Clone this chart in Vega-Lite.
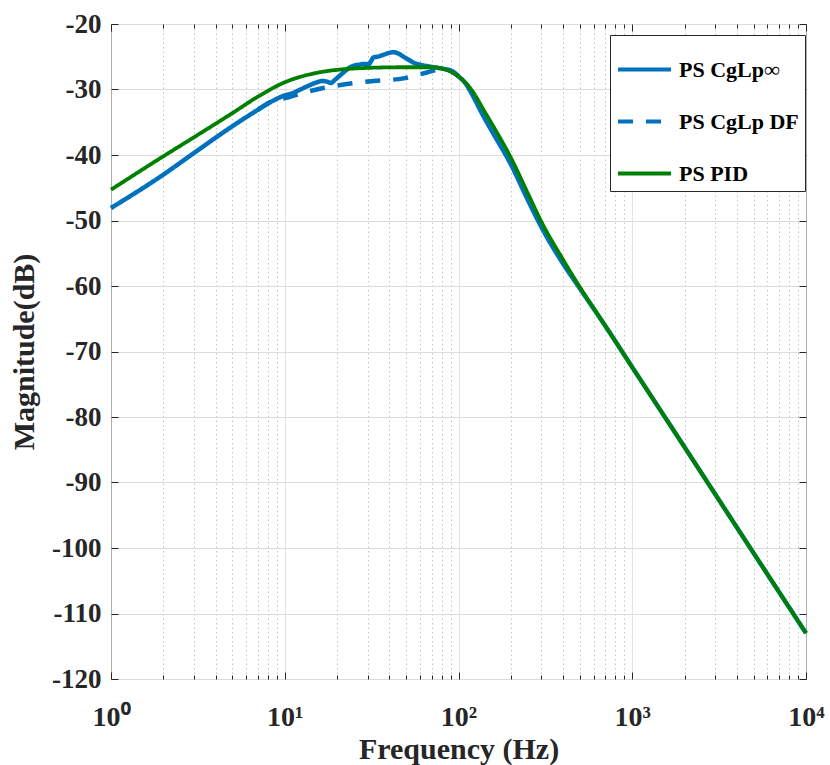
{
  "$schema": "https://vega.github.io/schema/vega-lite/v6.json",
  "width": 695,
  "height": 655,
  "autosize": {"type": "none"},
  "padding": {"left": 111, "top": 24, "right": 24, "bottom": 86},
  "background": "white",
  "view": {"stroke": "#262626", "strokeWidth": 1},
  "config": {
    "font": "Liberation Serif",
    "axis": {
      "labelFont": "Liberation Serif",
      "labelFontWeight": "bold",
      "labelColor": "#262626",
      "titleFont": "Liberation Serif",
      "titleFontWeight": "bold",
      "titleColor": "#262626",
      "tickColor": "#262626",
      "domain": false
    },
    "legend": {
      "labelFont": "Liberation Serif",
      "labelFontWeight": "bold",
      "labelColor": "black"
    }
  },
  "datasets": {
    "curves": [
      {"series": "PS CgLp∞", "f": 1, "db": -48.1},
      {"series": "PS CgLp∞", "f": 2, "db": -43.0},
      {"series": "PS CgLp∞", "f": 3, "db": -39.7},
      {"series": "PS CgLp∞", "f": 5, "db": -35.6},
      {"series": "PS CgLp∞", "f": 7, "db": -33.1},
      {"series": "PS CgLp∞", "f": 8.3, "db": -31.9},
      {"series": "PS CgLp∞", "f": 10, "db": -30.9},
      {"series": "PS CgLp∞", "f": 11, "db": -30.6},
      {"series": "PS CgLp∞", "f": 12.3, "db": -30.0},
      {"series": "PS CgLp∞", "f": 13.5, "db": -29.5},
      {"series": "PS CgLp∞", "f": 15.3, "db": -28.9},
      {"series": "PS CgLp∞", "f": 16.5, "db": -28.7},
      {"series": "PS CgLp∞", "f": 17.5, "db": -28.8},
      {"series": "PS CgLp∞", "f": 18.5, "db": -29.0},
      {"series": "PS CgLp∞", "f": 19.3, "db": -28.6},
      {"series": "PS CgLp∞", "f": 20.5, "db": -28.0},
      {"series": "PS CgLp∞", "f": 22, "db": -27.3},
      {"series": "PS CgLp∞", "f": 23.8, "db": -26.6},
      {"series": "PS CgLp∞", "f": 25.5, "db": -26.3},
      {"series": "PS CgLp∞", "f": 27, "db": -26.2},
      {"series": "PS CgLp∞", "f": 28.4, "db": -26.1},
      {"series": "PS CgLp∞", "f": 30.5, "db": -26.1},
      {"series": "PS CgLp∞", "f": 31.5, "db": -25.6},
      {"series": "PS CgLp∞", "f": 32.4, "db": -25.1},
      {"series": "PS CgLp∞", "f": 34, "db": -25.0},
      {"series": "PS CgLp∞", "f": 37, "db": -24.7},
      {"series": "PS CgLp∞", "f": 40, "db": -24.4},
      {"series": "PS CgLp∞", "f": 42.3, "db": -24.3},
      {"series": "PS CgLp∞", "f": 45, "db": -24.5},
      {"series": "PS CgLp∞", "f": 48.3, "db": -25.0},
      {"series": "PS CgLp∞", "f": 52, "db": -25.5},
      {"series": "PS CgLp∞", "f": 55.1, "db": -25.9},
      {"series": "PS CgLp∞", "f": 60, "db": -26.2},
      {"series": "PS CgLp∞", "f": 68.7, "db": -26.5},
      {"series": "PS CgLp∞", "f": 80, "db": -26.8},
      {"series": "PS CgLp∞", "f": 90, "db": -27.1},
      {"series": "PS CgLp∞", "f": 100, "db": -28.0},
      {"series": "PS CgLp∞", "f": 110, "db": -29.1},
      {"series": "PS CgLp∞", "f": 120, "db": -30.8},
      {"series": "PS CgLp∞", "f": 140, "db": -34.2},
      {"series": "PS CgLp∞", "f": 160, "db": -36.9},
      {"series": "PS CgLp∞", "f": 200, "db": -41.4},
      {"series": "PS CgLp∞", "f": 250, "db": -46.8},
      {"series": "PS CgLp∞", "f": 300, "db": -51.0},
      {"series": "PS CgLp∞", "f": 400, "db": -56.6},
      {"series": "PS CgLp∞", "f": 500, "db": -60.4},
      {"series": "PS CgLp∞", "f": 700, "db": -66.1},
      {"series": "PS CgLp∞", "f": 1000, "db": -72.4},
      {"series": "PS CgLp∞", "f": 2000, "db": -84.6},
      {"series": "PS CgLp∞", "f": 5000, "db": -100.8},
      {"series": "PS CgLp∞", "f": 10000, "db": -113.0},
      {"series": "PS CgLp DF", "f": 7, "db": -33.1},
      {"series": "PS CgLp DF", "f": 8.3, "db": -31.9},
      {"series": "PS CgLp DF", "f": 10.5, "db": -31.2},
      {"series": "PS CgLp DF", "f": 12.8, "db": -30.5},
      {"series": "PS CgLp DF", "f": 15.3, "db": -30.0},
      {"series": "PS CgLp DF", "f": 22.3, "db": -29.2},
      {"series": "PS CgLp DF", "f": 32.4, "db": -28.7},
      {"series": "PS CgLp DF", "f": 48.3, "db": -28.3},
      {"series": "PS CgLp DF", "f": 65.8, "db": -27.4},
      {"series": "PS CgLp DF", "f": 80, "db": -26.9},
      {"series": "PS CgLp DF", "f": 90, "db": -27.1},
      {"series": "PS CgLp DF", "f": 100, "db": -28.0},
      {"series": "PS PID", "f": 1, "db": -45.3},
      {"series": "PS PID", "f": 2, "db": -40.2},
      {"series": "PS PID", "f": 3, "db": -37.3},
      {"series": "PS PID", "f": 5, "db": -33.6},
      {"series": "PS PID", "f": 7, "db": -31.1},
      {"series": "PS PID", "f": 10, "db": -28.9},
      {"series": "PS PID", "f": 15, "db": -27.5},
      {"series": "PS PID", "f": 20, "db": -27.0},
      {"series": "PS PID", "f": 30, "db": -26.7},
      {"series": "PS PID", "f": 50, "db": -26.6},
      {"series": "PS PID", "f": 70, "db": -26.6},
      {"series": "PS PID", "f": 85, "db": -27.0},
      {"series": "PS PID", "f": 100, "db": -28.0},
      {"series": "PS PID", "f": 120, "db": -30.2},
      {"series": "PS PID", "f": 140, "db": -33.2},
      {"series": "PS PID", "f": 160, "db": -35.8},
      {"series": "PS PID", "f": 200, "db": -40.4},
      {"series": "PS PID", "f": 250, "db": -45.8},
      {"series": "PS PID", "f": 300, "db": -50.2},
      {"series": "PS PID", "f": 400, "db": -56.0},
      {"series": "PS PID", "f": 500, "db": -60.2},
      {"series": "PS PID", "f": 700, "db": -66.1},
      {"series": "PS PID", "f": 1000, "db": -72.4},
      {"series": "PS PID", "f": 2000, "db": -84.6},
      {"series": "PS PID", "f": 5000, "db": -100.8},
      {"series": "PS PID", "f": 10000, "db": -113.0}
    ]
  },
  "data": {"name": "curves"},
  "encoding": {
    "x": {"field": "f", "type": "quantitative", "scale": {"type": "log", "domain": [1, 10000], "nice": false}},
    "y": {"field": "db", "type": "quantitative", "scale": {"domain": [-120, -20], "nice": false, "zero": false}},
    "color": {
      "field": "series", "type": "nominal", "title": null,
      "scale": {"domain": ["PS CgLp∞", "PS CgLp DF", "PS PID"], "range": ["#0072BD", "#0072BD", "#008000"]},
      "legend": {
        "orient": "none", "legendX": 499, "legendY": 11,
        "symbolType": "stroke", "symbolSize": 2809, "symbolStrokeWidth": 4,
        "labelFontSize": 22, "labelOffset": 6, "labelLimit": 200,
        "padding": 6, "rowPadding": 12,
        "strokeColor": "#262626", "fillColor": "white"
      }
    },
    "strokeDash": {
      "field": "series", "type": "nominal", "title": null,
      "scale": {"domain": ["PS CgLp∞", "PS CgLp DF", "PS PID"], "range": [[1, 0], [15, 13], [1, 0]]}
    }
  },
  "layer": [
    {
      "transform": [{"filter": "datum.series == 'PS CgLp∞'"}],
      "mark": {"type": "line", "strokeWidth": 4.5, "interpolate": "monotone"},
      "encoding": {
        "x": {
          "field": "f", "type": "quantitative", "title": "Frequency (Hz)",
          "axis": {
            "orient": "bottom",
            "values": [1,2,3,4,5,6,7,8,9,10,20,30,40,50,60,70,80,90,100,200,300,400,500,600,700,800,900,1000,2000,3000,4000,5000,6000,7000,8000,9000,10000],
            "labelExpr": "datum.value == 1 ? '10⁰' : datum.value == 10 ? '10¹' : datum.value == 100 ? '10²' : datum.value == 1000 ? '10³' : datum.value == 10000 ? '10⁴' : ''",
            "labelOverlap": false, "labelFlush": false,
            "labelFontSize": 28, "labelPadding": 31,
            "tickSize": {"condition": {"test": "indexof([1,10,100,1000,10000], datum.value) >= 0", "value": -7}, "value": -4},
            "grid": true,
            "gridColor": {"condition": {"test": "indexof([1,10,100,1000,10000], datum.value) >= 0", "value": "#dcdcdc"}, "value": "#c4c4c4"},
            "gridDash": {"condition": {"test": "indexof([1,10,100,1000,10000], datum.value) >= 0", "value": [1, 0]}, "value": [1.5, 3]},
            "titleFontSize": 30, "titlePadding": 0
          }
        },
        "y": {
          "field": "db", "type": "quantitative", "title": "Magnitude(dB)",
          "axis": {
            "orient": "left",
            "values": [-120,-110,-100,-90,-80,-70,-60,-50,-40,-30,-20],
            "labelExpr": "'' + datum.value",
            "labelFontSize": 27, "labelPadding": 17,
            "tickSize": -7,
            "grid": true, "gridColor": "#dcdcdc",
            "titleFontSize": 30, "titlePadding": 12
          }
        }
      }
    },
    {
      "transform": [{"filter": "datum.series == 'PS CgLp DF'"}],
      "mark": {"type": "line", "strokeWidth": 4.5, "interpolate": "monotone"},
      "encoding": {
        "x": {"field": "f", "type": "quantitative", "axis": null},
        "y": {"field": "db", "type": "quantitative", "axis": null}
      }
    },
    {
      "transform": [{"filter": "datum.series == 'PS PID'"}],
      "mark": {"type": "line", "strokeWidth": 3.8, "interpolate": "monotone"},
      "encoding": {
        "x": {"field": "f", "type": "quantitative", "axis": null},
        "y": {"field": "db", "type": "quantitative", "axis": null}
      }
    },
    {
      "transform": [{"filter": "datum.series == 'PS PID'"}],
      "mark": {"type": "line", "strokeOpacity": 0},
      "encoding": {
        "x": {
          "field": "f", "type": "quantitative", "title": null,
          "axis": {
            "orient": "top",
            "values": [1,2,3,4,5,6,7,8,9,10,20,30,40,50,60,70,80,90,100,200,300,400,500,600,700,800,900,1000,2000,3000,4000,5000,6000,7000,8000,9000,10000],
            "labels": false, "grid": false,
            "tickSize": {"condition": {"test": "indexof([1,10,100,1000,10000], datum.value) >= 0", "value": -7}, "value": -4}
          }
        },
        "y": {
          "field": "db", "type": "quantitative", "title": null,
          "axis": {
            "orient": "right",
            "values": [-120,-110,-100,-90,-80,-70,-60,-50,-40,-30,-20],
            "labels": false, "grid": false, "tickSize": -7
          }
        },
        "color": {"value": "#008000"},
        "strokeDash": {"value": [1, 0]}
      }
    }
  ],
  "resolve": {"axis": {"x": "independent", "y": "independent"}}
}
